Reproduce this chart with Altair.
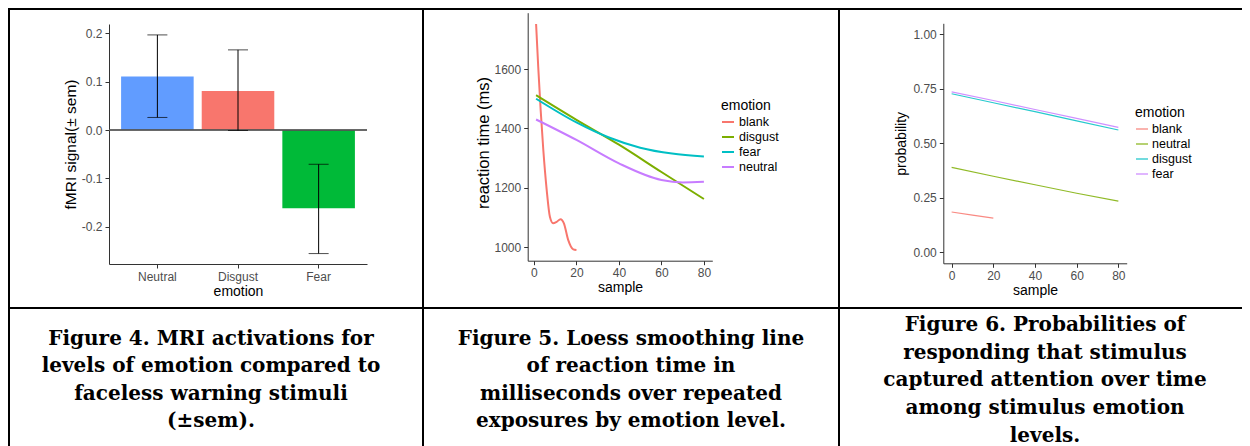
import altair as alt
import pandas as pd

# ---------------- Panel 1: fMRI bars ----------------
emo1 = ["Neutral", "Disgust", "Fear"]
fmri = [0.111, 0.081, -0.162]
sem_lo = [0.026, -0.001, -0.256]
sem_hi = [0.197, 0.166, -0.071]
bar_colors = ["#619CFF", "#F8766D", "#00BA38"]

# ---------------- Panel 2: loess reaction time ----------------
blank_x = [1, 2, 3.15, 4.4, 6, 7.5, 9, 10.7, 12.5, 14.1, 16.1, 18.5, 20]
blank_rt = [1752, 1608, 1462, 1327, 1192, 1102, 1080, 1085, 1094, 1080, 1024, 992, 990]
disgust_x = [1, 20, 40, 60, 80]
disgust_rt = [1512, 1429, 1345, 1253, 1162]
fear_x = [1, 20, 35, 50, 65, 80]
fear_rt = [1500, 1420, 1370, 1335, 1315, 1305]
neutral_x = [1, 20, 40, 60, 70, 80]
neutral_rt = [1430, 1361, 1282, 1226, 1218, 1220]
emo2 = ["blank", "disgust", "fear", "neutral"]

# ---------------- Panel 3: probabilities ----------------
p_blank_x = [0, 10, 20]
p_blank = [0.185, 0.171, 0.157]
p_x = [0, 20, 40, 60, 80]
p_neutral = [0.390, 0.349, 0.310, 0.271, 0.235]
p_disgust = [0.727, 0.686, 0.645, 0.603, 0.561]
p_fear = [0.736, 0.696, 0.655, 0.614, 0.573]
emo3 = ["blank", "neutral", "disgust", "fear"]

line_colors = ["#F8766D", "#7CAE00", "#00BFC4", "#C77CFF"]

captions = [
    ["Figure 4. MRI activations for", "levels of emotion compared to",
     "faceless warning stimuli", "(±sem)."],
    ["Figure 5. Loess smoothing line", "of reaction time in",
     "milliseconds over repeated", "exposures by emotion level."],
    ["Figure 6. Probabilities of", "responding that stimulus",
     "captured attention over time", "among stimulus emotion", "levels."],
]

W, H = 1234, 438
FONT = "Liberation Sans"

# ---------- data frames ----------
df1 = pd.DataFrame({"emotion": emo1, "fmri": fmri, "lo": sem_lo, "hi": sem_hi})

rows2 = []
for name, xs, ys in [("blank", blank_x, blank_rt), ("disgust", disgust_x, disgust_rt),
                     ("fear", fear_x, fear_rt), ("neutral", neutral_x, neutral_rt)]:
    rows2 += [{"emotion": name, "sample": a, "rt": b} for a, b in zip(xs, ys)]
df2 = pd.DataFrame(rows2)

rows3 = []
for name, xs, ys in [("blank", p_blank_x, p_blank), ("neutral", p_x, p_neutral),
                     ("disgust", p_x, p_disgust), ("fear", p_x, p_fear)]:
    rows3 += [{"emotion": name, "sample": a, "probability": b} for a, b in zip(xs, ys)]
df3 = pd.DataFrame(rows3)

# ---------- panel 1 ----------
x1 = alt.X("emotion:N", sort=emo1,
           scale=alt.Scale(domain=emo1, range=[101, 359], paddingInner=0.1, paddingOuter=0.15),
           axis=alt.Axis(orient="bottom", offset=256 - H, title="emotion", titlePadding=2,
                         labelAngle=0))
y1_scale = alt.Scale(domain=[-0.2776, 0.2196], range=[256, 16], nice=False, zero=False)
y1 = alt.Y("fmri:Q", scale=y1_scale,
           axis=alt.Axis(orient="left", offset=-101, title="fMRI signal(± sem)",
                         values=[-0.2, -0.1, 0, 0.1, 0.2], titlePadding=3, titleFontSize=15.5,
                         labelExpr="datum.value < 0 ? '-' + format(-datum.value, '.1f') : format(datum.value, '.1f')"))

base1 = alt.Chart(df1)
bars = base1.mark_bar().encode(
    x=x1, y=y1, y2=alt.datum(0),
    color=alt.Color("emotion:N", scale=alt.Scale(domain=emo1, range=bar_colors), legend=None))
zero = base1.mark_rule(color="#555555", strokeWidth=1).encode(
    y=alt.datum(0), x=alt.value(101), x2=alt.value(359))
err = base1.mark_rule(color="black", strokeWidth=1).encode(x="emotion:N", y="lo:Q", y2="hi:Q")
cap_lo = base1.mark_tick(color="black", size=20, thickness=1).encode(x="emotion:N", y="lo:Q")
cap_hi = base1.mark_tick(color="black", size=20, thickness=1).encode(x="emotion:N", y="hi:Q")
panel1 = alt.layer(bars, zero, err, cap_lo, cap_hi)

# ---------- panel 2 ----------
panel2 = alt.Chart(df2).mark_line(strokeWidth=2, interpolate="monotone").encode(
    x=alt.X("sample:Q",
            scale=alt.Scale(domain=[-2.95, 83.95], range=[519.7, 704.3], nice=False, zero=False),
            axis=alt.Axis(orient="bottom", offset=252.7 - H, values=[0, 20, 40, 60, 80],
                          title="sample", titlePadding=2)),
    y=alt.Y("rt:Q",
            scale=alt.Scale(domain=[954, 1790], range=[252.7, 4.7], nice=False, zero=False),
            axis=alt.Axis(orient="left", offset=-519.7, values=[1000, 1200, 1400, 1600],
                          format="d", title="reaction time (ms)", titlePadding=3,
                          titleFontSize=16.5, titleY=134.5)),
    color=alt.Color("emotion:N", scale=alt.Scale(domain=emo2, range=line_colors),
                    legend=alt.Legend(orient="none", legendX=713, legendY=91, title="emotion",
                                      labelOffset=4)),
)

# ---------- panel 3 ----------
panel3 = alt.Chart(df3).mark_line(strokeWidth=1.2, opacity=0.85).encode(
    x=alt.X("sample:Q",
            scale=alt.Scale(domain=[-4, 84], range=[935.3, 1118.7], nice=False, zero=False),
            axis=alt.Axis(orient="bottom", offset=255.3 - H, values=[0, 20, 40, 60, 80],
                          title="sample", titlePadding=2)),
    y=alt.Y("probability:Q",
            scale=alt.Scale(domain=[-0.05, 1.05], range=[255.3, 15.3], nice=False, zero=False),
            axis=alt.Axis(orient="left", offset=-935.3, values=[0, 0.25, 0.5, 0.75, 1.0],
                          format=".2f", title="probability", titlePadding=4)),
    color=alt.Color("emotion:N", scale=alt.Scale(domain=emo3, range=line_colors),
                    legend=alt.Legend(orient="none", legendX=1127, legendY=98, title="emotion",
                                      labelOffset=3, symbolStrokeWidth=1.3)),
)

# ---------- table borders and captions ----------
one = pd.DataFrame({"k": [0]})
def vline(x):
    return alt.Chart(one).mark_rule(color="black", strokeWidth=2).encode(
        x=alt.value(x), x2=alt.value(x), y=alt.value(0), y2=alt.value(H))
def hline(y):
    return alt.Chart(one).mark_rule(color="black", strokeWidth=2).encode(
        y=alt.value(y), y2=alt.value(y), x=alt.value(0), x2=alt.value(W))

borders = [vline(1), vline(415), vline(831), hline(1), hline(300)]

cap_pos = [(203, 331, 27.3), (623, 331, 27.3), (1037, 317, 27.7)]
cap_layers = []
for lines, (cx, cy, lh) in zip(captions, cap_pos):
    cap_layers.append(
        alt.Chart(pd.DataFrame({"t": ["\n".join(lines)]})).mark_text(
            font="DejaVu Serif", fontWeight="bold", fontSize=20, lineBreak="\n",
            lineHeight=lh, align="center", baseline="middle", color="black"
        ).encode(text="t:N", x=alt.value(cx), y=alt.value(cy))
    )

chart = alt.layer(panel1, panel2, panel3, *borders, *cap_layers).resolve_scale(
    x="independent", y="independent", color="independent"
).properties(
    width=W, height=H, autosize=alt.AutoSizeParams(type="none"), padding=0
).configure_view(stroke=None).configure_axis(
    grid=False, labelFont=FONT, titleFont=FONT, labelColor="#4D4D4D", titleColor="black",
    labelFontSize=12, titleFontSize=14, titleFontWeight="normal", domainColor="#333333",
    tickColor="#333333", tickSize=4, labelPadding=3, domainWidth=1
).configure_legend(
    titleFont=FONT, labelFont=FONT, titleFontSize=14, titleFontWeight="normal",
    labelFontSize=12.5, titleColor="black", labelColor="black", symbolType="stroke",
    symbolSize=144, symbolStrokeWidth=2, rowPadding=1, titlePadding=2
)

chart.save("out.html", embed_options={"renderer": "svg", "actions": False})
